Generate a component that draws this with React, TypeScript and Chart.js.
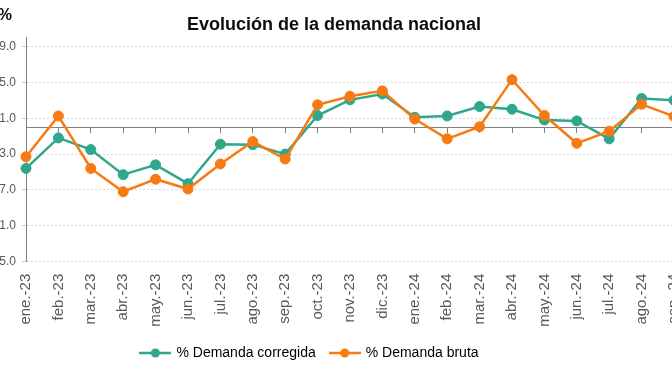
import React, { useEffect, useRef } from 'react';
import { Chart, registerables } from 'chart.js';

Chart.register(...registerables);

// ---- data ----
const categories = [
  'ene.-23', 'feb.-23', 'mar.-23', 'abr.-23', 'may.-23', 'jun.-23', 'jul.-23',
  'ago.-23', 'sep.-23', 'oct.-23', 'nov.-23', 'dic.-23', 'ene.-24', 'feb.-24',
  'mar.-24', 'abr.-24', 'may.-24', 'jun.-24', 'jul.-24', 'ago.-24', 'sep.-24',
];
const demandaCorregida = [
  -4.6, -1.2, -2.5, -5.3, -4.2, -6.3, -1.9, -1.95, -3.0, 1.3, 3.05, 3.7,
  1.1, 1.25, 2.3, 2.0, 0.8, 0.7, -1.3, 3.2, 3.0,
];
const demandaBruta = [
  -3.3, 1.25, -4.6, -7.2, -5.8, -6.9, -4.1, -1.6, -3.55, 2.5, 3.45, 4.05,
  0.9, -1.3, 0.05, 5.3, 1.3, -1.8, -0.45, 2.55, 1.2,
];
const yTickValues = [-15, -11, -7, -3, 1, 5, 9];
const yMin = -15;
const yMax = 10;
const seriesNames = ['% Demanda corregida', '% Demanda bruta'];
const titleText = 'Evolución de la demanda nacional';
const unitText = '%';

// ---- styling / layout ----
const GREEN = '#2EA78A';
const ORANGE = '#F77B12';
const FONT = "'Liberation Sans', Arial, Helvetica, sans-serif";
const CANVAS_W = 764;
const CANVAS_H = 372;
const SHIFT = 54; // canvas is shifted left (reference image is cropped)

function legendMarker(color: string) {
  const c = document.createElement('canvas');
  c.width = 32;
  c.height = 12;
  const g = c.getContext('2d')!;
  g.strokeStyle = color;
  g.lineWidth = 2.5;
  g.beginPath();
  g.moveTo(0, 6);
  g.lineTo(32, 6);
  g.stroke();
  g.fillStyle = color;
  g.beginPath();
  g.arc(16, 6, 4.5, 0, Math.PI * 2);
  g.fill();
  return c;
}

const headerPlugin = {
  id: 'headerText',
  afterDraw(chart: any) {
    const ctx = chart.ctx;
    ctx.save();
    ctx.fillStyle = '#0d0d0d';
    ctx.textBaseline = 'alphabetic';
    ctx.font = `bold 18px ${FONT}`;
    ctx.textAlign = 'center';
    ctx.fillText(titleText, 334 + SHIFT, 30);
    ctx.font = `bold 16px ${FONT}`;
    ctx.textAlign = 'right';
    ctx.fillText(unitText, 12 + SHIFT, 20);
    ctx.restore();
  },
};

export default function App() {
  const ref = useRef<HTMLCanvasElement | null>(null);

  useEffect(() => {
    if (!ref.current) return;
    Chart.defaults.font.family = FONT;
    const markers = [legendMarker(GREEN), legendMarker(ORANGE)];
    const chart = new Chart(ref.current, {
      type: 'line',
      data: {
        labels: categories,
        datasets: [
          {
            label: seriesNames[0],
            data: demandaCorregida,
            borderColor: GREEN,
            backgroundColor: GREEN,
            pointBackgroundColor: GREEN,
            pointBorderColor: GREEN,
            borderWidth: 2.5,
            pointRadius: 5,
            pointBorderWidth: 1,
            tension: 0,
            order: 1,
          },
          {
            label: seriesNames[1],
            data: demandaBruta,
            borderColor: ORANGE,
            backgroundColor: ORANGE,
            pointBackgroundColor: ORANGE,
            pointBorderColor: ORANGE,
            borderWidth: 2.5,
            pointRadius: 5,
            pointBorderWidth: 1,
            tension: 0,
            order: 0,
          },
        ],
      },
      options: {
        responsive: false,
        animation: false,
        events: [],
        devicePixelRatio: 1,
        layout: { padding: { top: 37.5, right: 36, bottom: 2, left: 0 } },
        scales: {
          x: {
            type: 'category',
            position: 'bottom',
            offset: false,
            grid: { display: false },
            border: { display: false },
            ticks: {
              color: '#595959',
              font: { size: 15 },
              minRotation: 90,
              maxRotation: 90,
              autoSkip: false,
              padding: 4,
            },
            afterFit: (axis: any) => {
              axis.height = 69.3;
            },
          },
          xZero: {
            type: 'category',
            position: { y: 0 },
            offset: false,
            grid: {
              drawOnChartArea: false,
              drawTicks: true,
              tickLength: 5,
              tickColor: '#808080',
              color: '#808080',
            },
            border: { display: true, color: '#808080', width: 1 },
            ticks: { display: false },
          } as any,
          y: {
            min: yMin,
            max: yMax,
            afterBuildTicks: (axis: any) => {
              axis.ticks = yTickValues.map((v) => ({ value: v }));
            },
            afterFit: (axis: any) => {
              axis.width = 80;
            },
            ticks: {
              color: '#595959',
              font: { size: 12 },
              padding: 6,
              callback: (v: any) => Number(v).toFixed(1),
            },
            grid: {
              color: '#d9d9d9',
              lineWidth: 1,
              tickLength: 4,
              tickColor: '#c8c8c8',
            },
            border: { display: true, color: '#808080', width: 1, dash: [2, 2] },
          },
        },
        plugins: {
          title: { display: false },
          tooltip: { enabled: false },
          legend: {
            display: true,
            position: 'bottom',
            labels: {
              usePointStyle: true,
              pointStyleWidth: 28,
              color: '#404040',
              font: { size: 14 },
              padding: 15,
              generateLabels: () =>
                seriesNames.map((name, i) => ({
                  text: name,
                  fillStyle: i === 0 ? GREEN : ORANGE,
                  strokeStyle: i === 0 ? GREEN : ORANGE,
                  lineWidth: 0,
                  pointStyle: markers[i] as any,
                  hidden: false,
                  datasetIndex: i,
                })),
            },
          },
        },
      },
      plugins: [headerPlugin],
    } as any);
    return () => chart.destroy();
  }, []);

  return (
    <div
      style={{
        position: 'fixed',
        left: 0,
        top: 0,
        width: 672,
        height: 372,
        overflow: 'hidden',
        background: '#ffffff',
      }}
    >
      <canvas
        ref={ref}
        width={CANVAS_W}
        height={CANVAS_H}
        style={{
          position: 'absolute',
          left: -SHIFT,
          top: 0,
          width: CANVAS_W,
          height: CANVAS_H,
        }}
      />
    </div>
  );
}
